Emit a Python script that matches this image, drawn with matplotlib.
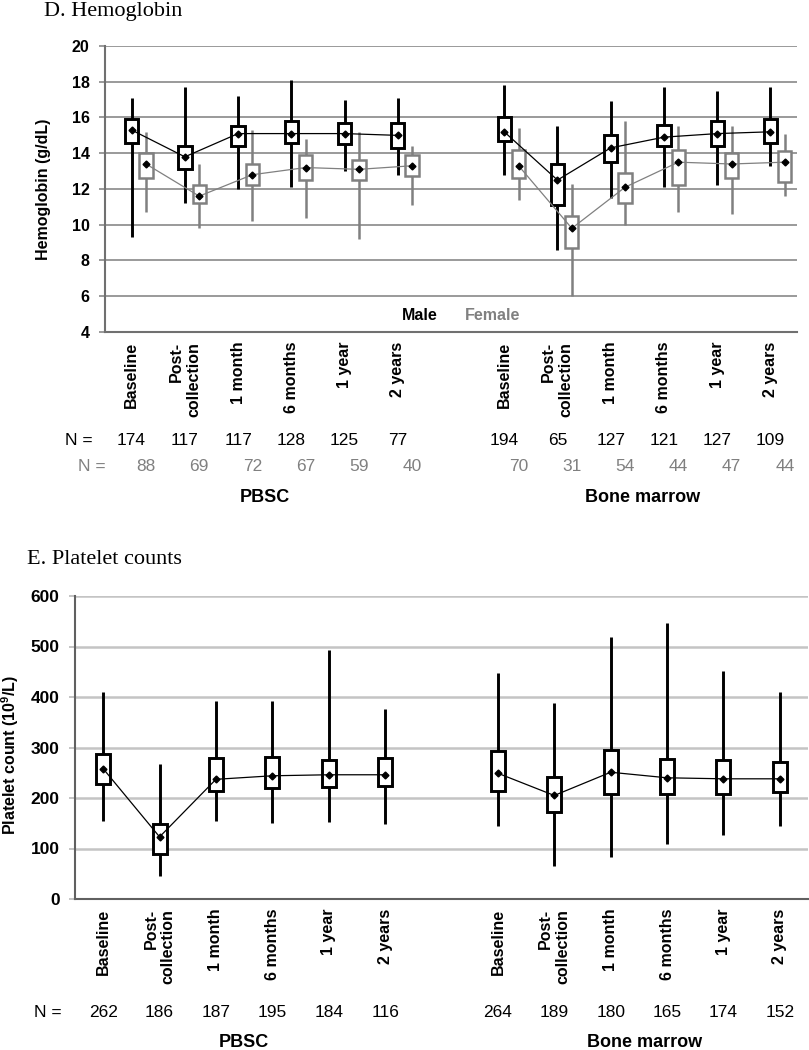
import numpy as np
import matplotlib
matplotlib.use("Agg")
import matplotlib.pyplot as plt

plt.rcParams['font.family'] = ['Liberation Sans', 'DejaVu Sans']
plt.rcParams['mathtext.fontset'] = 'custom'
plt.rcParams['mathtext.rm'] = 'Liberation Sans'
plt.rcParams['mathtext.bf'] = 'Liberation Sans:bold'

# categories
times = ['Baseline', 'Post-\ncollection', '1 month', '6 months', '1 year', '2 years']
groups = ['PBSC', 'Bone marrow']

# D. Hemoglobin (PBSC x6, then bone marrow x6)
hb_m_mean = [15.3, 13.8, 15.1, 15.1, 15.1, 15.0, 15.2, 12.5, 14.3, 14.9, 15.1, 15.2]
hb_m_q1 = [14.6, 13.1, 14.4, 14.6, 14.5, 14.3, 14.7, 11.1, 13.5, 14.4, 14.4, 14.6]
hb_m_q3 = [15.9, 14.4, 15.5, 15.8, 15.7, 15.7, 16.0, 13.4, 15.0, 15.6, 15.8, 15.9]
hb_m_lo = [9.3, 11.2, 12.0, 12.1, 13.0, 12.8, 12.8, 8.6, 11.5, 12.1, 12.2, 13.3]
hb_m_hi = [17.1, 17.7, 17.2, 18.1, 17.0, 17.1, 17.8, 15.5, 16.9, 17.7, 17.5, 17.7]

hb_f_mean = [13.4, 11.6, 12.8, 13.2, 13.1, 13.3, 13.3, 9.8, 12.1, 13.5, 13.4, 13.5]
hb_f_q1 = [12.6, 11.2, 12.2, 12.5, 12.5, 12.7, 12.6, 8.7, 11.2, 12.2, 12.6, 12.4]
hb_f_q3 = [14.0, 12.2, 13.4, 13.9, 13.6, 13.9, 14.2, 10.5, 12.9, 14.2, 14.0, 14.1]
hb_f_lo = [10.7, 9.8, 10.2, 10.4, 9.2, 11.1, 11.4, 6.0, 10.0, 10.7, 10.6, 11.6]
hb_f_hi = [15.2, 13.4, 15.3, 14.8, 15.2, 14.4, 15.4, 12.3, 15.8, 15.5, 15.5, 15.1]

hb_n_m = [174, 117, 117, 128, 125, 77, 194, 65, 127, 121, 127, 109]
hb_n_f = [88, 69, 72, 67, 59, 40, 70, 31, 54, 44, 47, 44]

# E. Platelet counts
plt_mean = [258, 123, 237, 244, 246, 246, 249, 205, 251, 240, 238, 238]
plt_q1 = [228, 90, 214, 219, 221, 224, 213, 173, 207, 207, 207, 211]
plt_q3 = [287, 148, 280, 281, 275, 280, 294, 241, 296, 278, 275, 271]
plt_lo = [155, 45, 155, 151, 153, 148, 145, 65, 83, 109, 126, 144]
plt_hi = [409, 267, 393, 393, 494, 377, 447, 389, 518, 547, 451, 409]
plt_n = [262, 186, 187, 195, 184, 116, 264, 189, 180, 165, 174, 152]

GRAY = '#808080'
pos = np.concatenate([np.arange(6), np.arange(6) + 7]).astype(float)
labels = times + times


def draw_series(ax, x, mean, q1, q3, lo, hi, color, lw, bw):
    q1 = np.array(q1)
    q3 = np.array(q3)
    ax.vlines(x, lo, hi, color=color, lw=lw, zorder=3)
    ax.bar(x, q3 - q1, bottom=q1, width=bw, facecolor='white', edgecolor=color,
           lw=lw, zorder=4)
    for g in range(2):
        s = slice(6 * g, 6 * g + 6)
        ax.plot(x[s], np.array(mean)[s], color=color, lw=0.9, zorder=5)
    ax.plot(x, mean, 'D', color='black', ms=3.5, ls='none', zorder=6)


def style_axes(ax, gridcolor, spinecolor, lsize):
    for s in ['top', 'right']:
        ax.spines[s].set_visible(False)
    for s in ['left', 'bottom']:
        ax.spines[s].set_color(spinecolor)
        ax.spines[s].set_linewidth(1.5)
    ax.yaxis.grid(True, color=gridcolor, lw=1.4)
    ax.set_axisbelow(True)
    ax.tick_params(axis='y', length=4, color=gridcolor, width=1.4, pad=7,
                   labelsize=lsize)
    ax.tick_params(axis='x', length=0, pad=7)
    ax.set_xlim(-0.5, 12.5)
    ax.set_xticks(pos)
    ax.set_xticklabels(labels, rotation=90, fontsize=11.5, fontweight='bold',
                       va='top', ha='center')
    for t in ax.get_xticklabels():
        t.set_multialignment('right')
    for t in ax.get_yticklabels():
        t.set_fontweight('bold')


fig = plt.figure(figsize=(8.09, 10.5), dpi=100)

# ---------------- D. Hemoglobin ----------------
ax1 = fig.add_axes([105 / 809, 1 - 332 / 1050, 692 / 809, 286 / 1050])
draw_series(ax1, pos, hb_m_mean, hb_m_q1, hb_m_q3, hb_m_lo, hb_m_hi, 'black', 2.1, 0.25)
draw_series(ax1, pos + 0.27, hb_f_mean, hb_f_q1, hb_f_q3, hb_f_lo, hb_f_hi, GRAY, 1.8, 0.25)
ax1.set_ylim(4, 20)
ax1.set_yticks(np.arange(4, 21, 2))
style_axes(ax1, '#9a9a9a', '#707070', 11.5)

ax1.text(0.429, 0.059, 'Male', transform=ax1.transAxes, fontsize=11.5,
         fontweight='bold', color='black', va='center')
ax1.text(0.52, 0.059, 'Female', transform=ax1.transAxes, fontsize=11.5,
         fontweight='bold', color=GRAY, va='center')

tr1 = ax1.get_xaxis_transform()
ax1.text(-0.73, -0.378, 'N =', transform=tr1, ha='right', va='center', fontsize=12.5, clip_on=False)
ax1.text(-0.48, -0.469, 'N =', transform=tr1, ha='right', va='center', fontsize=12.5,
         color=GRAY, clip_on=False)
for x, nm, nf in zip(pos, hb_n_m, hb_n_f):
    ax1.text(x, -0.378, str(nm), transform=tr1, ha='center', va='center', fontsize=12.5)
    ax1.text(x + 0.27, -0.469, str(nf), transform=tr1, ha='center', va='center',
             fontsize=12.5, color=GRAY)
ax1.text(2.5, -0.577, groups[0], transform=tr1, ha='center', va='center',
         fontsize=13, fontweight='bold')
ax1.text(9.6, -0.577, groups[1], transform=tr1, ha='center', va='center',
         fontsize=13, fontweight='bold')

fig.text(44 / 809, 1 - 189 / 1050, 'Hemoglobin (g/dL)', rotation=90, ha='center',
         va='center', fontsize=11.5, fontweight='bold')
fig.text(44 / 809, 1 - 16 / 1050, 'D. Hemoglobin', family='Liberation Serif',
         fontsize=16, va='baseline', ha='left')

# ---------------- E. Platelet counts ----------------
ax2 = fig.add_axes([75 / 809, 1 - 899 / 1050, 733 / 809, 303 / 1050])
draw_series(ax2, pos, plt_mean, plt_q1, plt_q3, plt_lo, plt_hi, 'black', 2.1, 0.25)
ax2.set_ylim(0, 600)
ax2.set_yticks(np.arange(0, 601, 100))
style_axes(ax2, '#c4c4c4', '#606060', 12.5)
ax2.yaxis.grid(True, color='#c4c4c4', lw=1.8)

tr2 = ax2.get_xaxis_transform()
ax2.text(-0.73, -0.376, 'N =', transform=tr2, ha='right', va='center', fontsize=12.5, clip_on=False)
for x, n in zip(pos, plt_n):
    ax2.text(x, -0.376, str(n), transform=tr2, ha='center', va='center', fontsize=12.5)
ax2.text(2.5, -0.472, groups[0], transform=tr2, ha='center', va='center',
         fontsize=13, fontweight='bold')
ax2.text(9.6, -0.472, groups[1], transform=tr2, ha='center', va='center',
         fontsize=13, fontweight='bold')

fig.text(10 / 809, 1 - 755 / 1050, r'Platelet count (10$^\mathbf{9}$/L)', rotation=90,
         ha='center', va='center', fontsize=11.5, fontweight='bold')
fig.text(27 / 809, 1 - 564 / 1050, 'E. Platelet counts', family='Liberation Serif',
         fontsize=16, va='baseline', ha='left')

fig.savefig('out.png', dpi=100)
